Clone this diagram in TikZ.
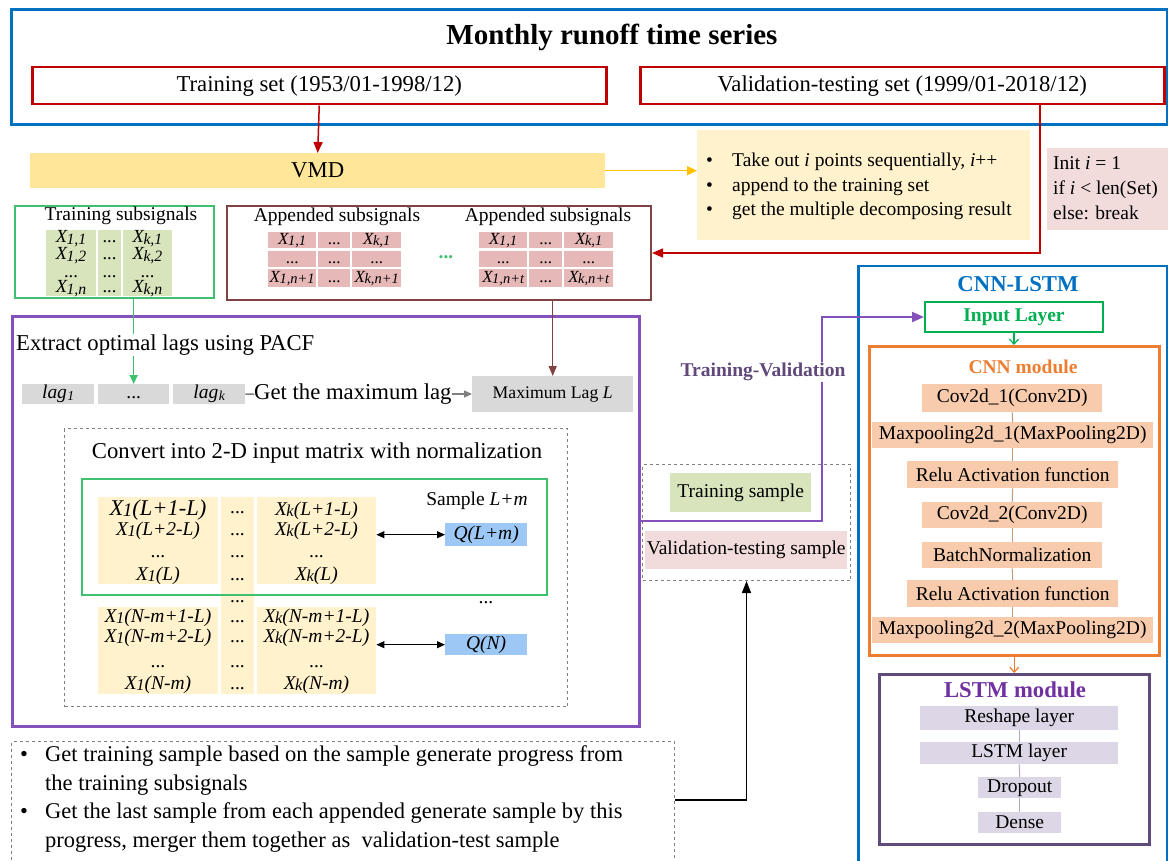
\documentclass[tikz,border=0pt]{standalone}
\usepackage{fontspec}
\usepackage{graphicx}
\setmainfont{Liberation Serif}
\usetikzlibrary{arrows.meta}
\definecolor{cblue}{HTML}{0070C0}
\definecolor{cred}{HTML}{C00000}
\definecolor{vmdfill}{HTML}{FFE699}
\definecolor{cyel}{HTML}{FFC000}
\definecolor{lyel}{HTML}{FFF2CC}
\definecolor{lpink}{HTML}{F2DCDB}
\definecolor{cgreen}{HTML}{3EC06E}
\definecolor{lgreen}{HTML}{D8E4BC}
\definecolor{cbrown}{HTML}{7F4343}
\definecolor{pcellc}{HTML}{E6B8B7}
\definecolor{cpurple}{HTML}{8450BA}
\definecolor{lgray}{HTML}{D9D9D9}
\definecolor{dgray}{HTML}{808080}
\definecolor{qblue}{HTML}{9DC8F5}
\definecolor{corange}{HTML}{ED7D31}
\definecolor{peach}{HTML}{F8CBAD}
\definecolor{lsttxt}{HTML}{7030A0}
\definecolor{lstbrd}{HTML}{5F4B7B}
\definecolor{lav}{HTML}{DDD6E6}
\definecolor{tvtxt}{HTML}{60497A}
\definecolor{ingreen}{HTML}{00B050}
\definecolor{linkc}{HTML}{C49A7A}
\definecolor{linkl}{HTML}{B4A7C8}

\newcommand\fT{\fontsize{29}{34}\selectfont\bfseries}
\newcommand\fB{\fontsize{22.7}{27}\selectfont}
\newcommand\fC{\fontsize{19.5}{23}\selectfont}
\newcommand\fD{\fontsize{17.7}{21}\selectfont}
\newcommand\Xv[1]{\textit{X\kern-0.5pt\raisebox{-0.08em}{\scalebox{0.85}{#1}}}}
\newcommand\bxat[6]{\node[#1,anchor=north west,minimum width={#4-#2},minimum height={#5-#3},inner sep=0pt] (#6) at (#2,#3)}
\newcommand\bul{\makebox[26pt][l]{\textbullet}}
\newcommand\bulB{\makebox[25pt][l]{\textbullet}}

\tikzset{
  redarr/.style={draw=cred,line width=1.5pt,-{Triangle[length=11pt,width=9pt]}},
  yelarr/.style={draw=cyel,line width=1.5pt,-{Triangle[length=10pt,width=9pt]}},
  grnarr/.style={draw=cgreen,line width=1.5pt,-{Triangle[length=9pt,width=8pt]}},
  brnarr/.style={draw=cbrown,line width=1.5pt,-{Triangle[length=10pt,width=8pt]}},
  gryarr/.style={draw=dgray,line width=1.5pt,-{Triangle[length=8pt,width=7pt]}},
  dblarr/.style={draw=black,line width=1pt,{Triangle[length=8pt,width=7pt]}-{Triangle[length=8pt,width=7pt]}},
  purarr/.style={draw=cpurple,line width=2pt,-{Triangle[length=12pt,width=10pt]}},
  blkarr/.style={draw=black,line width=1.5pt,-{Triangle[length=12pt,width=9pt]}},
  gcol/.style={fill=lgreen},
  gtxt/.style={font=\fontsize{18.5}{17}\selectfont,anchor=base,inner sep=0pt},
  pcell/.style={fill=pcellc,font=\fontsize{17}{20}\selectfont,text height=11pt,text depth=3pt},
  lagbox/.style={fill=lgray,font=\fC,text height=12pt,text depth=4pt},
  ycol/.style={fill=lyel},
  ytxt/.style={font=\fC,anchor=base,inner sep=0pt},
  layer/.style={fill=peach,font=\fC},
  llayer/.style={fill=lav,font=\fC},
  dashbox/.style={draw=dgray,dashed,line width=1pt},
  clink/.style={draw=linkc,line width=1pt},
  llink/.style={draw=linkl,line width=1pt}
}

\begin{document}
\begin{tikzpicture}[x=1pt,y=-1pt]
\useasboundingbox (0,0) rectangle (1168,861);
\clip (0,0) rectangle (1168,861);

% ---------- top block ----------
\bxat{draw=cblue,line width=3pt}{10}{8}{1166}{123}{topbox}{};
\node[font=\fT] (title) at (612,37) {Monthly runoff time series};
\bxat{draw=cred,line width=2.5pt,font=\fB}{31}{66}{605}{103}{trainset}{Training set (1953/01-1998/12)};
\bxat{draw=cred,line width=2.5pt,font=\fB}{639}{66}{1163}{103}{valset}{Validation-testing set (1999/01-2018/12)};
\bxat{fill=vmdfill,font=\fB}{30}{153}{605}{188}{vmd}{VMD};
\draw[redarr] (trainset.south) -- (vmd.north);

\bxat{fill=lyel}{697}{130}{1030}{240}{bulbox}{};
\node[anchor=west,align=left,font=\fontsize{19.5}{24.5}\selectfont,inner sep=0pt] (bultxt) at (706,186.5)
  {\bul Take out \textit{i} points sequentially, \textit{i}++\\
   \bul append to the training set\\
   \bul get the multiple decomposing result};
\draw[yelarr] (vmd.east) -- (vmd.east -| bulbox.west);

\bxat{fill=lpink}{1047}{148}{1180}{230}{initbox}{};
\node[anchor=west,align=left,font=\fontsize{19.5}{25}\selectfont,inner sep=0pt] (inittxt) at (1053,188)
  {Init \textit{i} = 1\\if \textit{i} < len(Set)\\else: break};

% ---------- subsignals ----------
\bxat{draw=cgreen,line width=2pt}{14}{205}{213}{297}{trsub}{};
\node[font=\fC,inner sep=0pt] (trsubt) at (121,216) {Training subsignals};
\bxat{gcol}{46}{230}{96}{296}{g1}{};
\bxat{gcol}{98}{230}{121}{296}{g2}{};
\bxat{gcol}{123}{230}{172}{296}{g3}{};
\node[gtxt] (g1a) at (71,243) {\Xv{1,1}};
\node[gtxt] (g1b) at (71,260) {\Xv{1,2}};
\node[gtxt] (g1c) at (71,277) {...};
\node[gtxt] (g1d) at (71,293) {\Xv{1,n}};
\node[gtxt] (g2a) at (109.5,243) {...};
\node[gtxt] (g2b) at (109.5,260) {...};
\node[gtxt] (g2c) at (109.5,277) {...};
\node[gtxt] (g2d) at (109.5,293) {...};
\node[gtxt] (g3a) at (147.5,243) {\Xv{k,1}};
\node[gtxt] (g3b) at (147.5,260) {\Xv{k,2}};
\node[gtxt] (g3c) at (147.5,277) {...};
\node[gtxt] (g3d) at (147.5,293) {\Xv{k,n}};

\bxat{draw=cbrown,line width=2pt}{226}{205}{650}{299}{app}{};
\node[font=\fC] (appt1) at (337,217) {Appended subsignals};
\node[font=\fC] (appt2) at (548,217) {Appended subsignals};
% matrix 1
\bxat{pcell}{268}{232}{316}{248}{a11}{\Xv{1,1}};
\bxat{pcell}{318}{232}{350}{248}{a12}{...};
\bxat{pcell}{352}{232}{401}{248}{a13}{\Xv{k,1}};
\bxat{pcell}{268}{251}{316}{267}{a21}{...};
\bxat{pcell}{318}{251}{350}{267}{a22}{...};
\bxat{pcell}{352}{251}{401}{267}{a23}{...};
\bxat{pcell}{268}{269}{316}{287}{a31}{\Xv{1,n+1}};
\bxat{pcell}{318}{269}{350}{287}{a32}{...};
\bxat{pcell}{352}{269}{401}{287}{a33}{\Xv{k,n+1}};
% matrix 2
\bxat{pcell}{479}{232}{527}{248}{b11}{\Xv{1,1}};
\bxat{pcell}{529}{232}{562}{248}{b12}{...};
\bxat{pcell}{564}{232}{613}{248}{b13}{\Xv{k,1}};
\bxat{pcell}{479}{251}{527}{267}{b21}{...};
\bxat{pcell}{529}{251}{562}{267}{b22}{...};
\bxat{pcell}{564}{251}{613}{267}{b23}{...};
\bxat{pcell}{479}{269}{527}{287}{b31}{\Xv{1,n+t}};
\bxat{pcell}{529}{269}{562}{287}{b32}{...};
\bxat{pcell}{564}{269}{613}{287}{b33}{\Xv{k,n+t}};
\node[text=cgreen,font=\fC\bfseries,anchor=base,inner sep=0pt] (gdots) at (446,259) {...};

% red feedback line
\coordinate (vx) at (1040,0);
\draw[redarr] (valset.south -| vx) |- (app.east);

% ---------- purple block ----------
\bxat{draw=cpurple,line width=2.5pt}{11}{315}{638}{725}{pbox}{};
\bxat{lagbox}{22}{384}{94}{404}{lag1}{\textit{lag\kern0.5pt\raisebox{-0.12em}{\scalebox{0.7}{1}}}};
\bxat{lagbox}{98}{384}{169}{404}{lagdots}{...};
\bxat{lagbox}{173}{384}{245}{404}{lagk}{\textit{lag\kern0.5pt\raisebox{-0.12em}{\scalebox{0.7}{k}}}};
\draw[grnarr] (lagdots.north |- trsub.south) -- (lagdots.north);
\node[anchor=west,font=\fB,fill=white,inner sep=1pt] (pacf) at (15,345) {Extract optimal lags using PACF};
\node[anchor=west,font=\fB,inner sep=0pt] (gml) at (254,394) {Get the maximum lag};
\bxat{lagbox,font=\fD}{472}{376}{633}{412}{maxlag}{Maximum Lag \textit{L}};
\draw[draw=dgray,line width=1.5pt] (lagk.east) -- (gml.west);
\draw[gryarr] (gml.east) -- (gml.east -| maxlag.west);
\draw[brnarr] (maxlag.north |- app.south) -- (maxlag.north);

\bxat{dashbox}{64}{428}{567}{706}{conv}{};
\node[font=\fB] (convt) at (317,453) {Convert into 2-D input matrix with normalization};
\bxat{ycol}{98}{497}{218}{584}{uc1}{};
\bxat{ycol}{257}{497}{376}{584}{uc3}{};
\bxat{ycol}{221}{497}{254}{694}{mc2}{};
\bxat{ycol}{98}{607}{218}{694}{lc1}{};
\bxat{ycol}{257}{607}{376}{694}{lc3}{};
\bxat{draw=cgreen,line width=2pt}{81}{478}{546}{594}{sampbox}{};
% column 1
\node[ytxt,font=\fontsize{22.5}{26}\selectfont] (t11) at (158,515) {\Xv{1}\textit{(L+1-L)}};
\node[ytxt] (t12) at (158,535) {\Xv{1}\textit{(L+2-L)}};
\node[ytxt] (t13) at (158,557) {...};
\node[ytxt] (t14) at (158,580) {\Xv{1}\textit{(L)}};
\node[ytxt] (t15) at (158,622) {\Xv{1}\textit{(N-m+1-L)}};
\node[ytxt] (t16) at (158,642) {\Xv{1}\textit{(N-m+2-L)}};
\node[ytxt] (t17) at (158,667) {...};
\node[ytxt] (t18) at (158,689) {\Xv{1}\textit{(N-m)}};
% column 2
\node[ytxt] (d1) at (237.5,513) {...};
\node[ytxt] (d2) at (237.5,535) {...};
\node[ytxt] (d3) at (237.5,557) {...};
\node[ytxt] (d4) at (237.5,580) {...};
\node[ytxt] (d5) at (237.5,602) {...};
\node[ytxt] (d6) at (237.5,622) {...};
\node[ytxt] (d7) at (237.5,642) {...};
\node[ytxt] (d8) at (237.5,667) {...};
\node[ytxt] (d9) at (237.5,689) {...};
% column 3
\node[ytxt] (t31) at (316.5,515) {\Xv{k}\textit{(L+1-L)}};
\node[ytxt] (t32) at (316.5,535) {\Xv{k}\textit{(L+2-L)}};
\node[ytxt] (t33) at (316.5,557) {...};
\node[ytxt] (t34) at (316.5,580) {\Xv{k}\textit{(L)}};
\node[ytxt] (t35) at (316.5,622) {\Xv{k}\textit{(N-m+1-L)}};
\node[ytxt] (t36) at (316.5,642) {\Xv{k}\textit{(N-m+2-L)}};
\node[ytxt] (t37) at (316.5,667) {...};
\node[ytxt] (t38) at (316.5,689) {\Xv{k}\textit{(N-m)}};

\node[font=\fC] (samplm) at (477,501) {Sample \textit{L+m}};
\bxat{fill=qblue,font=\fC}{445}{523}{527}{546}{q1}{\textit{Q(L+m)}};
\bxat{fill=qblue,font=\fC}{445}{634}{527}{655}{qn}{\textit{Q(N)}};
\draw[dblarr] (uc3.east |- q1.west) -- (q1.west);
\draw[dblarr] (lc3.east |- qn.west) -- (qn.west);
\node[ytxt] (qdots) at (486,603) {...};

% ---------- samples ----------
\bxat{dashbox}{642}{464}{850}{580}{samples}{};
\bxat{fill=lgreen,font=\fC}{670}{473}{811}{512}{trsamp}{Training sample};
\bxat{fill=lpink,font=\fC}{645}{531}{847}{569}{vtsamp}{Validation-testing sample};

% ---------- bottom note ----------
\bxat{dashbox}{11}{741}{674}{890}{note}{};
\node[anchor=west,align=left,font=\fontsize{22.5}{28.5}\selectfont,inner sep=0pt] (notetxt) at (20,799)
  {\bulB Get training sample based on the sample generate progress from\\
   \hspace*{25pt}the training subsignals\\
   \bulB Get the last sample from each appended generate sample by this\\
   \hspace*{25pt}progress, merger them together as\ \ validation-test sample};
\coordinate (bturn) at (747,800);
\draw[blkarr] (note.east |- bturn) -| (samples.south);

% ---------- CNN-LSTM ----------
\bxat{draw=cblue,line width=2.5pt}{857}{265}{1166}{890}{cnnlstm}{};
\node[font=\fB\bfseries,text=cblue] (cltitle) at (1018,284) {CNN-LSTM};
\bxat{draw=ingreen,line width=2pt,font=\fC\bfseries,text=ingreen}{924}{301}{1102}{331}{inlayer}{Input Layer};
\bxat{draw=corange,line width=2.5pt}{868}{345}{1158}{654}{cnn}{};
\node[font=\fC\bfseries,text=corange] (cnnt) at (1023,367) {CNN module};
\bxat{layer}{922}{384}{1102}{412}{cv1}{Cov2d\_1(Conv2D)};
\bxat{layer}{872}{422}{1153}{448}{mp1}{Maxpooling2d\_1(MaxPooling2D)};
\bxat{layer}{907}{461}{1118}{488}{re1}{Relu Activation function};
\bxat{layer}{922}{502}{1102}{528}{cv2}{Cov2d\_2(Conv2D)};
\bxat{layer}{922}{542}{1102}{568}{bn}{BatchNormalization};
\bxat{layer}{907}{580}{1118}{607}{re2}{Relu Activation function};
\bxat{layer}{872}{617}{1153}{643}{mp2}{Maxpooling2d\_2(MaxPooling2D)};
\draw[clink] (cv1.south) -- (mp1.north);
\draw[clink] (mp1.south) -- (re1.north);
\draw[clink] (re1.south) -- (cv2.north);
\draw[clink] (cv2.south) -- (bn.north);
\draw[clink] (bn.south) -- (re2.north);
\draw[clink] (re2.south) -- (mp2.north);
\draw[draw=ingreen,line width=1.2pt,-{Straight Barb[length=5pt,width=9pt]}] (inlayer.south) -- (inlayer.south |- cnn.north);

\bxat{draw=lstbrd,line width=2.5pt}{878}{673}{1148}{843}{lstm}{};
\node[font=\fB\bfseries,text=lsttxt] (lstmt) at (1015,690) {LSTM module};
\bxat{llayer}{920}{706}{1118}{730}{rs}{Reshape layer};
\bxat{llayer}{920}{742}{1118}{764}{ll}{LSTM layer};
\bxat{llayer}{978}{777}{1061}{798}{dp}{Dropout};
\bxat{llayer}{978}{812}{1061}{833}{dn}{Dense};
\draw[llink] (rs.south) -- (ll.north);
\draw[llink] (ll.south) -- (dp.north);
\draw[llink] (dp.south) -- (dn.north);
\draw[draw=corange,line width=1.2pt,-{Straight Barb[length=5pt,width=9pt]}] (cnn.south) -- (cnn.south |- lstm.north);

% ---------- purple connector ----------
\coordinate (tvturn) at (822,521);
\draw[purarr] (pbox.east |- tvturn) -- (tvturn) |- (inlayer.west);
\node[font=\fC\bfseries,text=tvtxt,fill=white,inner sep=1pt] (tvlab) at (763,372) {Training-Validation};
\end{tikzpicture}
\end{document}
